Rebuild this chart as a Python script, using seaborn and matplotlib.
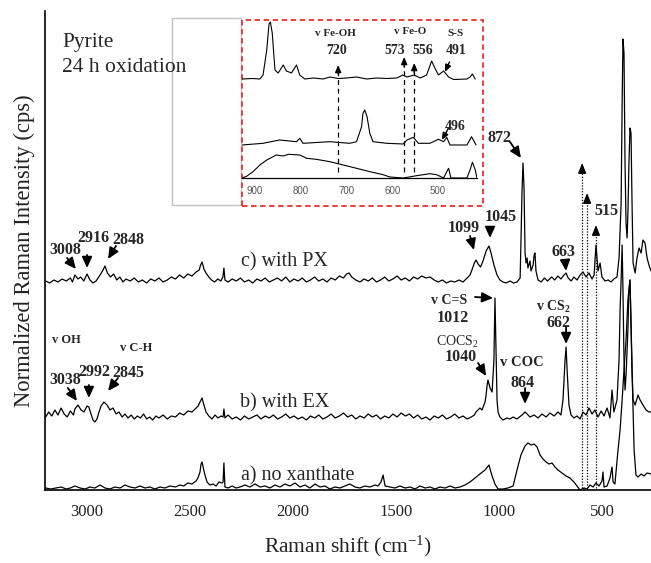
import numpy as np
import pandas as pd
import matplotlib
matplotlib.use('Agg')
import matplotlib.pyplot as plt
import seaborn as sns
from matplotlib.patches import Rectangle

# ---------------- main spectra (wavenumber, height above own baseline) ----------------
wn_c = [3200, 3180, 3160, 3140, 3120, 3100, 3080, 3070, 3058, 3043, 3030, 3015, 2999, 2985, 2970, 2955,
        2936, 2924, 2912, 2900, 2885, 2870, 2855, 2840, 2825, 2810, 2790, 2770, 2750, 2730, 2710, 2690,
        2670, 2650, 2630, 2610, 2590, 2570, 2550, 2530, 2510, 2490, 2470, 2455, 2448, 2441, 2432, 2422,
        2408, 2395, 2380, 2365, 2350, 2340, 2335, 2330, 2315, 2295, 2275, 2255, 2235, 2215, 2195, 2175,
        2155, 2135, 2115, 2095, 2075, 2055, 2035, 2015, 1995, 1975, 1955, 1935, 1915, 1895, 1875, 1855,
        1835, 1815, 1795, 1775, 1755, 1740, 1728, 1715, 1695, 1675, 1655, 1635, 1615, 1595, 1575, 1555,
        1535, 1515, 1495, 1475, 1455, 1435, 1415, 1395, 1375, 1355, 1335, 1315, 1295, 1275, 1255, 1235,
        1215, 1195, 1175, 1160, 1141, 1130, 1120, 1112, 1102, 1090, 1078, 1063, 1049, 1039, 1025, 1010,
        996, 981, 966, 947, 930, 913, 898, 894, 889, 884, 879, 874, 869, 864, 860, 850, 845, 835, 830,
        826, 821, 811, 796, 780, 765, 745, 730, 715, 700, 685, 675, 665, 650, 637, 622, 607, 593, 578,
        564, 549, 539, 530, 520, 510, 501, 486, 471, 457, 443, 428, 418, 408, 403, 399, 394, 389, 384,
        379, 375, 370, 365, 360, 355, 350, 340, 331, 321, 311, 302, 292, 282, 273, 263]
int_c = [2, 0, 3, 1, 4, 2, 5, 1, 8, 4, 6, 2, 9, 3, 0, 2,
         8, 12, 17, 10, 6, 9, 3, 6, 1, 4, 2, 5, 1, 3, 0, 4,
         2, 5, 1, 3, 6, 4, 8, 5, 9, 7, 11, 13, 18, 21, 14, 10,
         6, 3, 1, 4, 2, 6, 15, 3, 1, 4, 2, 5, 1, 3, 0, 4,
         2, 5, 1, 3, 5, 2, 6, 1, 4, 2, 5, 1, 3, 6, 2, 4,
         1, 5, 3, 7, 5, 9, 10, 6, 3, 1, 4, 2, 5, 1, 3, 6,
         2, 4, 7, 3, 5, 2, 6, 4, 7, 5, 6, 3, 1, 3, 0, 2,
         1, 3, 1, 4, 8, 14, 20, 23, 19, 16, 22, 32, 37, 30, 18, 8,
         3, 1, 0, 2, 0, 1, 5, 40, 90, 120, 95, 30, 20, 25, 15, 22, 12, 18, 28,
         30, 12, 3, 1, 5, 2, 6, 3, 7, 4, 8, 10, 5, 2, 6, 3, 8, 11, 6,
         10, 4, 8, 38, 12, 20, 6, 2, 3, 1, 4, 6, 25, 80, 180, 244, 230, 120, 60,
         45, 70, 120, 155, 150, 80, 20, 10, 25, 35, 30, 43, 40, 25, 18, 12]

wn_b = [3200, 3185, 3170, 3155, 3140, 3125, 3110, 3095, 3080, 3065, 3058, 3043, 3028, 3014, 2999, 2990,
        2980, 2970, 2961, 2951, 2941, 2931, 2917, 2902, 2888, 2873, 2858, 2844, 2829, 2815, 2800, 2785,
        2770, 2755, 2740, 2725, 2710, 2695, 2680, 2665, 2650, 2630, 2610, 2590, 2570, 2550, 2530, 2510,
        2490, 2470, 2460, 2451, 2441, 2432, 2422, 2408, 2393, 2378, 2364, 2349, 2339, 2335, 2330, 2315,
        2295, 2275, 2255, 2235, 2215, 2195, 2175, 2155, 2135, 2115, 2095, 2075, 2055, 2035, 2015, 1995,
        1975, 1955, 1935, 1915, 1895, 1875, 1855, 1835, 1815, 1795, 1775, 1755, 1735, 1715, 1695, 1675,
        1655, 1635, 1615, 1595, 1575, 1555, 1535, 1515, 1495, 1475, 1455, 1435, 1415, 1395, 1375, 1355,
        1335, 1315, 1295, 1275, 1255, 1235, 1215, 1195, 1175, 1155, 1135, 1120, 1112, 1093, 1083, 1068,
        1063, 1058, 1054, 1044, 1034, 1025, 1020, 1015, 1010, 1005, 996, 981, 962, 947, 932, 913, 889,
        874, 864, 850, 830, 811, 792, 772, 753, 733, 714, 700, 690, 680, 675, 670, 661, 651, 637, 622,
        607, 593, 578, 564, 549, 535, 520, 505, 491, 476, 462, 452, 443, 428, 418, 413, 408, 403, 399,
        394, 389, 384, 375, 370, 365, 360, 355, 350, 340, 326, 316, 302, 287, 273, 263]
int_b = [3, 8, 4, 10, 5, 12, 6, 3, 9, 5, 11, 15, 10, 8, 14, 13,
         6, 0, -2, 1, 8, 14, 18, 15, 10, 12, 6, 8, 3, 6, 2, 5,
         1, 4, 2, 6, 1, 3, 0, 4, 2, 5, 1, 4, 3, 7, 5, 9,
         8, 12, 14, 18, 22, 15, 8, 4, 1, 5, 2, 4, 3, 11, 2, 5,
         1, 3, 0, 4, 1, 3, 5, 1, 4, 2, 5, 1, 3, 6, 2, 4,
         1, 3, 0, 4, 2, 5, 1, 3, 6, 2, 4, 7, 3, 5, 1, 4,
         2, 6, 3, 5, 1, 4, 2, 6, 3, 7, 4, 6, 2, 5, 1, 3,
         0, 4, 2, 5, 1, 3, 6, 2, 4, 1, 3, 5, 8, 12, 10, 18,
         25, 35, 40, 32, 28, 60, 122, 70, 20, 8, 3, 0, 2, 1, 3, 1, 5,
         8, 6, 3, 5, 2, 6, 3, 7, 4, 8, 5, 20, 60, 73, 50, 15, 5, 2, 4,
         1, 8, 5, 12, 6, 10, 3, 9, 4, 12, 2, 30, 8, 20, 60, 110, 140, 175, 130,
         60, 30, 45, 90, 130, 140, 100, 50, 20, 15, 25, 20, 15, 10, 8, 8]

wn_a = [3200, 3175, 3150, 3125, 3100, 3080, 3058, 3033, 3009, 2985, 2961, 2936, 2912, 2888, 2864, 2839,
        2815, 2791, 2766, 2742, 2718, 2694, 2670, 2645, 2621, 2597, 2570, 2548, 2530, 2510, 2490, 2470,
        2461, 2451, 2446, 2441, 2437, 2427, 2417, 2403, 2388, 2373, 2359, 2344, 2339, 2335, 2330, 2315,
        2295, 2276, 2257, 2233, 2209, 2184, 2160, 2136, 2112, 2087, 2063, 2039, 2015, 1990, 1966, 1942,
        1918, 1893, 1869, 1845, 1821, 1796, 1772, 1748, 1724, 1699, 1675, 1651, 1627, 1602, 1587, 1573,
        1563, 1553, 1529, 1505, 1481, 1456, 1432, 1408, 1384, 1359, 1335, 1311, 1287, 1262, 1238, 1214,
        1190, 1165, 1141, 1117, 1093, 1068, 1049, 1034, 1020, 1005, 981, 957, 932, 913, 894, 874, 860,
        845, 830, 816, 801, 787, 772, 758, 743, 729, 714, 695, 675, 656, 637, 622, 607, 588, 573, 559,
        544, 530, 515, 501, 496, 491, 476, 462, 452, 447, 438, 423, 413, 403, 394, 384, 375, 365, 355,
        345, 336, 326, 311, 297, 282, 263]
int_a = [2, 1, 2, 3, 1, 2, 4, 2, 1, 3, 2, 5, 2, 1, 3, 2,
         5, 3, 2, 4, 2, 3, 1, 3, 2, 4, 3, 5, 4, 7, 6, 9,
         12, 18, 26, 28, 24, 15, 8, 5, 6, 4, 8, 7, 8, 27, 3, 2,
         4, 2, 3, 5, 3, 6, 3, 4, 2, 5, 3, 6, 4, 7, 3, 5,
         2, 6, 3, 4, 1, 3, 2, 4, 6, 3, 2, 4, 3, 5, 4, 8,
         15, 4, 3, 2, 4, 2, 3, 1, 4, 2, 3, 1, 3, 2, 4, 2,
         3, 5, 8, 12, 16, 20, 25, 14, 6, 1, 1, 2, 4, 20, 35, 44, 47,
         45, 46, 43, 35, 31, 28, 26, 27, 23, 20, 17, 14, 12, 8, 4, 0, 2, 1, 5,
         3, 7, 4, 9, 18, 3, 4, 12, 23, 8, 6, 40, 60, 90, 120, 150, 190, 210, 120,
         40, 15, 13, 16, 14, 17, 16]

spectrum_labels = ["a) no xanthate", "b) with EX", "c) with PX"]

# ---------------- inset spectra ----------------
wn_in_top = [928, 905, 889, 882, 874, 869, 866, 862, 856, 849, 838, 831, 820, 809, 802, 791, 772, 751,
             736, 718, 700, 678, 656, 634, 612, 590, 577, 568, 552, 539, 525, 514, 507, 499, 488, 477,
             466, 437, 430, 425, 419]
int_in_top = [99, 99.5, 99, 103, 128, 154, 156, 145, 108, 105, 113, 107, 105, 113, 103, 99, 100, 99,
              101, 99.5, 100, 101, 99, 100, 99.5, 100, 103, 101, 103, 100, 103, 117, 110, 103, 107, 101,
              98.5, 99, 101, 104, 99]
wn_in_mid = [928, 882, 846, 809, 802, 795, 736, 693, 678, 667, 664, 660, 655, 649, 642, 612, 576, 568,
             554, 543, 518, 499, 488, 481, 474, 437, 427, 417]
int_in_mid = [33, 34.7, 38, 36.3, 39.7, 34.7, 36.3, 34.7, 36.3, 51.3, 64.7, 68, 61.3, 44.7, 36.3, 34.7,
              34, 38, 40.7, 34.7, 34.7, 38.7, 36.3, 40.7, 33, 33, 41.3, 33]
wn_in_bot = [928, 918, 904, 889, 874, 853, 838, 827, 802, 787, 766, 736, 707, 678, 649, 620, 605, 576,
             547, 518, 503, 488, 481, 477, 472, 437, 430, 425, 419, 415]
int_in_bot = [0, 1.7, 6.3, 13, 18, 23, 22, 23.7, 23, 19.7, 18.7, 16.3, 13, 9.7, 6.3, 3.3, 1, 0,
              2.3, 4.3, 3.3, 0, 6.3, 9.7, 0, 0, 8.3, 15.7, 8.3, 0]

main_ticks = [3000, 2500, 2000, 1500, 1000, 500]
inset_ticks = [900, 800, 700, 600, 500]

# ---------------- style ----------------
sns.set_theme(style='white')
plt.rcParams['font.family'] = ['Liberation Serif', 'DejaVu Serif']
plt.rcParams['mathtext.fontset'] = 'custom'
plt.rcParams['mathtext.rm'] = 'Liberation Serif'
plt.rcParams['mathtext.it'] = 'Liberation Serif:italic'
plt.rcParams['mathtext.bf'] = 'Liberation Serif:bold'

fig = plt.figure(figsize=(6.51, 5.63), dpi=100)
fig.patch.set_facecolor('white')

ax = fig.add_axes([45/651, 73/563, 606/651, 479/563])
offsets = [0, 70, 207]
for wn, inten, off in zip([wn_a, wn_b, wn_c], [int_a, int_b, int_c], offsets):
    df = pd.DataFrame({'wn': wn, 'y': np.asarray(inten, float) + off})
    sns.lineplot(data=df, x='wn', y='y', ax=ax, color='black', lw=0.9,
                 estimator=None, sort=False)

ax.set_xlim(3203, 263)
ax.set_ylim(0, 479)
ax.set_xticks(main_ticks)
ax.set_xticklabels([str(t) for t in main_ticks])
ax.set_yticks([])
ax.tick_params(axis='x', length=0, pad=10, labelsize=12, labelcolor='#222222')
for s in ['top', 'right']:
    ax.spines[s].set_visible(False)
for s in ['left', 'bottom']:
    ax.spines[s].set_color('black')
    ax.spines[s].set_linewidth(1.2)
ax.set_xlabel('Raman shift (cm$^{-1}$)', fontsize=15.5, labelpad=10, color='#222222')
ax.set_ylabel('Normalized Raman Intensity (cps)', fontsize=16.3, labelpad=7, color='#222222')
ax.set_facecolor('white')

# spectrum labels
ax.text(2039, 228, spectrum_labels[2], fontsize=14.5, ha='center', va='center')
ax.text(2039, 87, spectrum_labels[1], fontsize=14.5, ha='center', va='center')
ax.text(1976, 14, spectrum_labels[0], fontsize=14.5, ha='center', va='center')

arr = dict(arrowstyle='-|>,head_length=0.55,head_width=0.25', color='black', lw=1.3,
           shrinkA=0, shrinkB=0)

def lab(x, y, s, fs=11.5, bold=True):
    ax.text(x, y, s, fontsize=fs, fontweight='bold' if bold else 'normal',
            ha='center', va='center')

def arrow(a, tail, tip):
    a.annotate('', xy=tip, xytext=tail, arrowprops=arr)

# main annotations
lab(996, 352, '872');  arrow(ax, (947, 348), (894, 332))
lab(1170, 262, '1099'); arrow(ax, (1141, 254), (1122, 240))
lab(991, 273, '1045'); arrow(ax, (1044, 263), (1044, 252))
lab(690, 238, '663');  arrow(ax, (680, 230), (675, 219))
lab(481, 279, '515')
lab(1243, 190, 'v C=S', fs=10); arrow(ax, (1117, 193), (1029, 192))
lab(1224, 172, '1012')
lab(1204, 148, 'COCS$_2$', fs=10, bold=False)
lab(1185, 133, '1040'); arrow(ax, (1102, 127), (1063, 114))
lab(889, 128, 'v COC', fs=10.5)
lab(884, 107, '864');  arrow(ax, (874, 102), (874, 86))
lab(738, 183, r'v CS$_\mathbf{2}$', fs=10)
lab(714, 167, '662');  arrow(ax, (675, 163), (675, 146))
lab(3106, 240, '3008'); arrow(ax, (3096, 232), (3053, 221))
lab(2970, 252, '2916'); arrow(ax, (2999, 235), (2999, 222))
lab(2800, 250, '2848'); arrow(ax, (2859, 244), (2897, 231))
lab(3101, 150, 'v OH', fs=9)
lab(2762, 142, 'v C-H', fs=9)
lab(3106, 110, '3038'); arrow(ax, (3092, 102), (3048, 89))
lab(2965, 118, '2992'); arrow(ax, (2990, 105), (2990, 92))
lab(2800, 117, '2845'); arrow(ax, (2849, 112), (2897, 99))

# dotted guide lines with arrowheads
for w, top in [(597, 327), (573, 297), (530, 265)]:
    ax.plot([w, w], [2, top - 6], ls=(0, (1, 1.3)), color='black', lw=0.9)
    ax.annotate('', xy=(w, top), xytext=(w, top - 10),
                arrowprops=dict(arrowstyle='-|>,head_length=0.5,head_width=0.2',
                                color='black', lw=1, shrinkA=0, shrinkB=0))

# title text
fig.add_artist(Rectangle((172/651, 1 - 205/563), 69/651, 187/563, transform=fig.transFigure,
                         facecolor='white', edgecolor='#c0c0c0', lw=1, zorder=2))
fig.text(62/651, 1 - 42/563, 'Pyrite', fontsize=15.5, va='center', ha='left', zorder=5)
fig.text(62/651, 1 - 68/563, '24 h oxidation', fontsize=15.5, va='center', ha='left', zorder=5)

fig.add_artist(Rectangle((242/651, 1 - 206/563), 241/651, 186/563, transform=fig.transFigure,
                         facecolor='white', edgecolor='#e83030', lw=1.3, ls=(0, (3, 2)), zorder=2))

# ---------------- inset ----------------
axi = fig.add_axes([242/651, 1 - 178/563, 235/651, 158/563], zorder=3)
axi.patch.set_alpha(0)
for wn, inten in [(wn_in_top, int_in_top), (wn_in_mid, int_in_mid), (wn_in_bot, int_in_bot)]:
    df = pd.DataFrame({'wn': wn, 'y': inten})
    sns.lineplot(data=df, x='wn', y='y', ax=axi, color='black', lw=0.8,
                 estimator=None, sort=False)
axi.set_xlim(928, 415)
axi.set_ylim(0, 158)
axi.set_xticks(inset_ticks)
axi.set_xticklabels([str(t) for t in inset_ticks], family='Liberation Sans')
axi.set_yticks([])
axi.set_xlabel('')
axi.set_ylabel('')
axi.tick_params(axis='x', direction='in', length=3, width=0.8, pad=6, labelsize=7,
                labelcolor='#555555', color='black')
for s in ['top', 'right', 'left']:
    axi.spines[s].set_visible(False)
axi.spines['bottom'].set_color('black')
axi.spines['bottom'].set_linewidth(0.9)

for w, top in [(718, 106), (574, 112), (552, 106)]:
    axi.plot([w, w], [6, top], ls=(0, (4, 3)), color='black', lw=0.9)
arr_in = dict(arrowstyle='-|>,head_length=0.35,head_width=0.15', color='black', lw=1,
              shrinkA=0, shrinkB=0)
axi.annotate('', xy=(718, 113), xytext=(718, 104), arrowprops=arr_in)
axi.annotate('', xy=(574, 121), xytext=(574, 111), arrowprops=arr_in)
axi.annotate('', xy=(552, 115), xytext=(552, 105), arrowprops=arr_in)
axi.annotate('', xy=(485, 106), xytext=(475, 116), arrowprops=arr_in)
axi.annotate('', xy=(492, 38), xytext=(477, 50), arrowprops=arr_in)

def ilab(x, y, s, fs=10):
    axi.text(x, y, s, fontsize=fs, fontweight='bold', ha='center', va='center')

ilab(723, 145, 'v Fe-OH', fs=8)
ilab(721, 128, '720')
ilab(561, 146, 'v Fe-O', fs=8)
ilab(594, 128, '573')
ilab(533, 128, '556')
ilab(461, 145, 'S-S', fs=8)
ilab(461, 128, '491')
ilab(463, 51, '496')

fig.savefig('out.png', dpi=100, facecolor='white')
